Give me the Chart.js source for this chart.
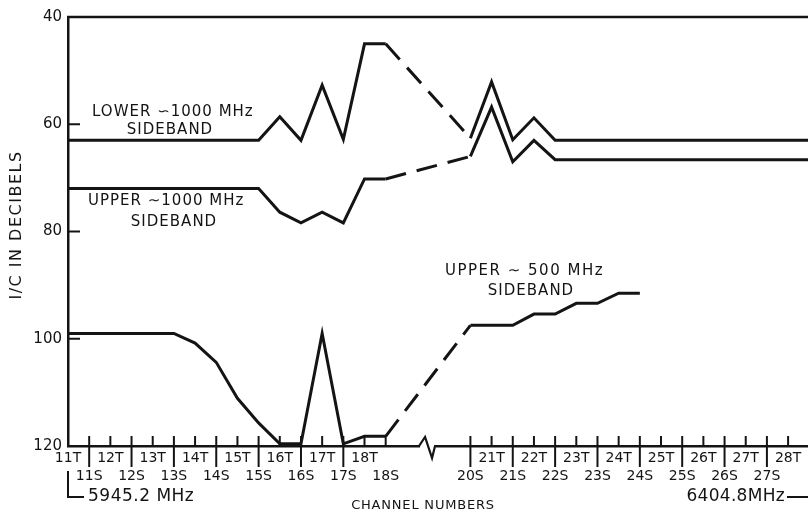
<!DOCTYPE html>
<html><head><meta charset="utf-8">
<script src="https://cdn.jsdelivr.net/npm/chart.js@4.4.0/dist/chart.umd.min.js"></script>
<style>html,body{margin:0;padding:0;background:#fff;}canvas{display:block;}</style>
</head><body>
<canvas id="c" width="808" height="512"></canvas>
<script>
// ---- data ----
const channelTicks = [11,11.5,12,12.5,13,13.5,14,14.5,15,15.5,16,16.5,17,17.5,18,18.5,
  20.5,21,21.5,22,22.5,23,23.5,24,24.5,25,25.5,26,26.5,27,27.5,28];
const channelLabels = ['11T','11S','12T','12S','13T','13S','14T','14S','15T','15S','16T','16S','17T','17S','18T','18S',
  '20S','21T','21S','22T','22S','23T','23S','24T','24S','25T','25S','26T','26S','27T','27S','28T'];
const xRange = [11, 28.47];
const yTicks = [40, 60, 80, 100, 120];

const lower1000Ch  = [11, 15.5, 16, 16.5, 17, 17.5, 18, 18.5, 20.5, 21, 21.5, 22, 22.5, 28.47];
const lower1000Val = [63, 63, 58.6, 63, 52.7, 62.8, 45, 45, 62.6, 52.1, 62.9, 58.8, 63, 63];

const upper1000Ch  = [11, 15.5, 16, 16.5, 17, 17.5, 18, 18.5, 20.5, 21, 21.5, 22, 22.5, 28.47];
const upper1000Val = [72, 72, 76.4, 78.4, 76.4, 78.4, 70.2, 70.2, 66, 56.8, 67, 63, 66.6, 66.6];

const upper500Ch  = [11, 13.5, 14, 14.5, 15, 15.5, 16, 16.5, 17, 17.5, 18, 18.5, 20.5, 21.5, 22, 22.5, 23, 23.5, 24, 24.5];
const upper500Val = [99, 99, 100.8, 104.4, 111.1, 115.7, 119.6, 119.6, 99, 119.6, 118.2, 118.2, 97.5, 97.5, 95.4, 95.4, 93.4, 93.4, 91.5, 91.5];

const gapStart = 18.5;   // dashed (extrapolated) span starts here
const breakAt = 19.5;    // axis break symbol

// ---- chart ----
const FONT = "'DejaVu Sans', sans-serif";
const INK = '#141414';

function pts(xs, ys) { return xs.map((x, i) => ({x: x, y: ys[i]})); }
function ds(xs, ys) {
  return {
    data: pts(xs, ys), borderColor: INK, borderWidth: 3, pointRadius: 0, tension: 0,
    borderJoinStyle: 'miter', borderCapStyle: 'butt',
    segment: { borderDash: ctx => ctx.p0.parsed.x === gapStart ? [21, 11] : undefined }
  };
}

const decor = {
  id: 'decor',
  afterDraw(chart) {
    const ctx = chart.ctx, a = chart.chartArea, xs = chart.scales.x, ys = chart.scales.y;
    ctx.save();
    ctx.strokeStyle = INK; ctx.lineWidth = 2.5; ctx.lineCap = 'butt';
    // top frame
    ctx.beginPath(); ctx.moveTo(a.left - 1, a.top); ctx.lineTo(a.right, a.top); ctx.stroke();
    // y tick marks inward
    ctx.lineWidth = 2;
    yTicks.slice(1, -1).forEach(v => {
      const y = ys.getPixelForValue(v);
      ctx.beginPath(); ctx.moveTo(a.left, y); ctx.lineTo(a.left + 12, y); ctx.stroke();
    });
    // x tick marks
    const set = new Set(channelTicks);
    channelTicks.forEach(v => {
      const x = xs.getPixelForValue(v);
      const long = (v % 1 !== 0) && set.has(v + 0.5);
      ctx.beginPath(); ctx.moveTo(x, a.bottom - 10); ctx.lineTo(x, a.bottom + (long ? 21 : 0)); ctx.stroke();
    });
    // axis break
    const bx = xs.getPixelForValue(breakAt), by = a.bottom;
    ctx.fillStyle = '#fff'; ctx.fillRect(bx - 8, by - 3, 16, 6);
    ctx.lineWidth = 2.2;
    ctx.beginPath();
    ctx.moveTo(bx - 9, by); ctx.lineTo(bx - 3, by - 9); ctx.lineTo(bx + 4, by + 12); ctx.lineTo(bx + 7, by); ctx.lineTo(bx + 9, by);
    ctx.stroke();
    // bracket at start frequency
    ctx.lineWidth = 2;
    const x0 = xs.getPixelForValue(xRange[0]);
    ctx.beginPath(); ctx.moveTo(x0, 471); ctx.lineTo(x0, 497); ctx.lineTo(x0 + 16, 497); ctx.stroke();
    ctx.beginPath(); ctx.moveTo(787, 497); ctx.lineTo(808, 497); ctx.stroke();

    // texts
    ctx.fillStyle = INK; ctx.textBaseline = 'middle';
    function txt(s, x, y, size, align, spacing) {
      ctx.font = size + 'px ' + FONT; ctx.textAlign = align || 'left';
      ctx.letterSpacing = (spacing || 0) + 'px';
      ctx.fillText(s, x, y);
    }
    txt('LOWER \u223D1000 MHz', 92, 112, 15, 'left', 1);
    txt('SIDEBAND', 170, 130, 15, 'center', 1);
    txt('UPPER \u223C1000 MHz', 88, 201, 15, 'left', 1);
    txt('SIDEBAND', 174, 222, 15, 'center', 1);
    txt('UPPER \u223C 500 MHz', 445, 271, 15, 'left', 1.5);
    txt('SIDEBAND', 531, 291, 15, 'center', 1);
    txt('5945.2 MHz', 88, 497, 17, 'left', 0.5);
    txt('6404.8MHz', 785, 497, 17, 'right', 0.3);
    txt('CHANNEL NUMBERS', 423, 506, 13, 'center', 0.8);
    ctx.save();
    ctx.translate(17, 225); ctx.rotate(-Math.PI / 2);
    txt('I/C IN DECIBELS', 0, 0, 16, 'center', 1.5);
    ctx.restore();
    ctx.restore();
  }
};

new Chart(document.getElementById('c'), {
  type: 'line',
  data: { datasets: [ds(lower1000Ch, lower1000Val), ds(upper1000Ch, upper1000Val), ds(upper500Ch, upper500Val)] },
  options: {
    responsive: false, animation: false, devicePixelRatio: 1,
    layout: { padding: { top: 17, right: 0, left: 0, bottom: 0 } },
    plugins: { legend: { display: false }, tooltip: { enabled: false } },
    scales: {
      x: {
        type: 'linear', min: xRange[0], max: xRange[1],
        afterFit(s) { s.height = 66; },
        afterBuildTicks(s) { s.ticks = channelTicks.map(v => ({ value: v })); },
        grid: { display: false, drawTicks: false },
        border: { display: true, color: INK, width: 2.5 },
        ticks: {
          autoSkip: false, maxRotation: 0, minRotation: 0, padding: 3, color: INK,
          font: { family: FONT, size: 14, lineHeight: 1.3 },
          callback: (v) => {
            const i = channelTicks.indexOf(v);
            const lab = i >= 0 ? channelLabels[i] : '';
            return v % 1 === 0 ? [lab, ''] : ['', lab];
          }
        }
      },
      y: {
        type: 'linear', reverse: true, min: 40, max: 120,
        afterFit(s) { s.width = 68; },
        afterBuildTicks(s) { s.ticks = yTicks.map(v => ({ value: v })); },
        grid: { display: false, drawTicks: false },
        border: { display: true, color: INK, width: 2.5 },
        ticks: { padding: 6, color: INK, font: { family: FONT, size: 15 } }
      }
    }
  },
  plugins: [decor]
});
</script>
</body></html>
